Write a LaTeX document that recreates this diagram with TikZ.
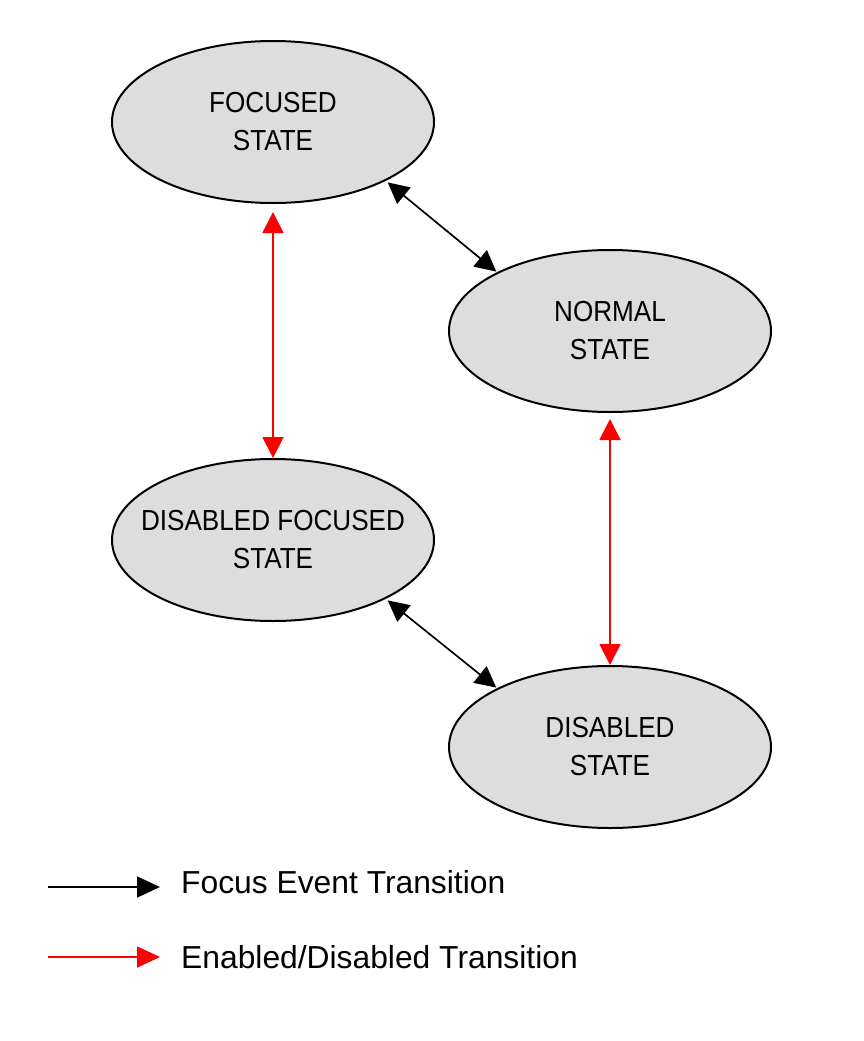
\documentclass[tikz,border=0pt]{standalone}
\usepackage{fontspec}
\setmainfont{Liberation Sans}
\newfontfamily\statefont[FakeStretch=0.9]{Liberation Sans}
\usetikzlibrary{arrows.meta,shapes.geometric}
\definecolor{stategray}{HTML}{DDDDDD}
\definecolor{trred}{HTML}{FF0000}
\tikzset{
  statebox/.style={ellipse, draw=black, line width=2pt, fill=stategray,
    minimum width=322pt, minimum height=162pt, inner sep=0pt, align=center,
    font=\statefont\fontsize{29}{38}\selectfont},
  focusarrow/.style={line width=1.7pt, draw=black, {Triangle[length=21pt,width=21pt]}-{Triangle[length=21pt,width=21pt]}},
  enablearrow/.style={line width=1.9pt, draw=trred, {Triangle[length=21pt,width=21pt]}-{Triangle[length=21pt,width=21pt]}},
  legendfocus/.style={line width=1.7pt, draw=black, -{Triangle[length=23pt,width=21pt]}},
  legendenable/.style={line width=1.7pt, draw=trred, -{Triangle[length=23pt,width=21pt]}},
  legendtext/.style={anchor=base west, inner sep=0pt, font=\fontsize{31.8}{36}\selectfont}
}
\begin{document}
\begin{tikzpicture}[x=1pt,y=-1pt]
\useasboundingbox[fill=white] (0,0) rectangle (863,1041);
\node[statebox] (F)  at (273,122) {FOCUSED\\STATE};
\node[statebox] (N)  at (610,331) {NORMAL\\STATE};
\node[statebox] (DF) at (273,540) {\makebox[0pt]{DISABLED FOCUSED}\\STATE};
\node[statebox] (D)  at (610,747) {DISABLED\\STATE};

\draw[focusarrow] ([shift={(3pt,-1pt)}]F.-28) -- ([shift={(-2pt,0pt)}]N.152);
\draw[focusarrow] ([shift={(3pt,-1pt)}]DF.-28) -- ([shift={(-2pt,0pt)}]D.152);
\draw[enablearrow] ([yshift=-8pt]F.south) -- (DF.north);
\draw[enablearrow] ([yshift=-6pt]N.south) -- (D.north);

\coordinate (l1a) at (48,887);
\coordinate (l1b) at (160,887);
\coordinate (l2a) at (48,957);
\coordinate (l2b) at (160,957);
\draw[legendfocus] (l1a) -- (l1b);
\draw[legendenable] (l2a) -- (l2b);
\node[legendtext] (t1) at (181,893) {Focus Event Transition};
\node[legendtext] (t2) at (181,968) {Enabled/Disabled Transition};
\end{tikzpicture}
\end{document}
